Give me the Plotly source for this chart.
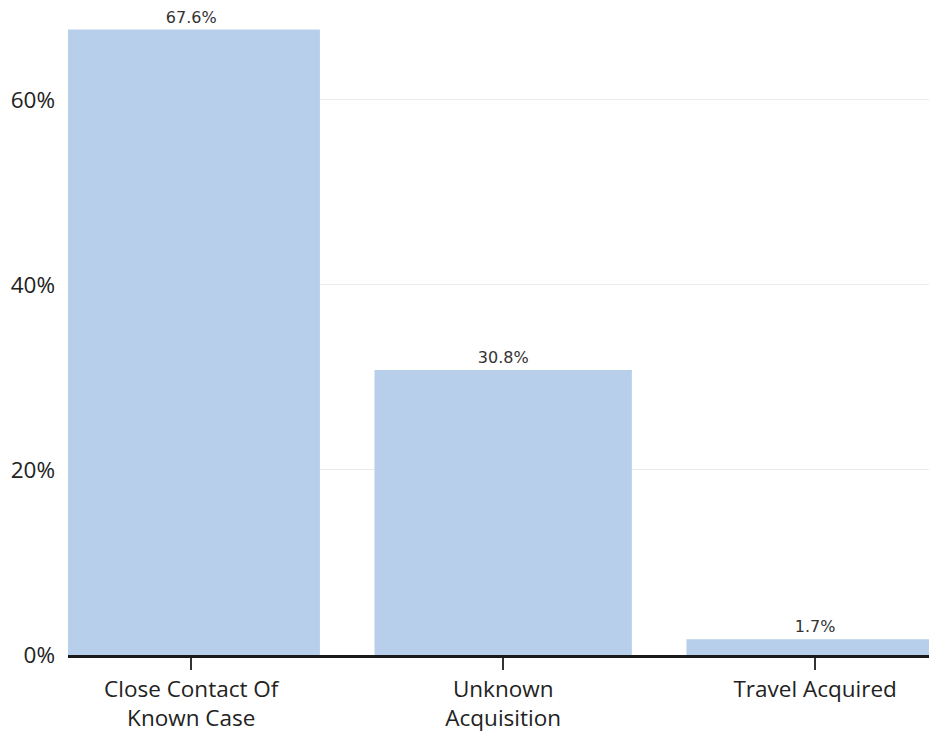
import plotly.graph_objects as go

categories = ["Close Contact Of<br>Known Case", "Unknown<br>Acquisition", "Travel Acquired"]
shares = [67.6, 30.8, 1.7]
y_ticks = [0, 20, 40, 60]
y_tick_labels = ["0%", "20%", "40%", "60%"]

fig = go.Figure(
    go.Bar(
        x=list(range(len(categories))),
        y=shares,
        width=0.825,
        marker=dict(color="#b7cfea", line=dict(width=0)),
        text=[f"{v:.1f}%" for v in shares],
        textposition="outside",
        cliponaxis=False,
        textfont=dict(family="DejaVu Sans", size=16, color="#333333"),
    )
)

fig.update_layout(
    width=929,
    height=734,
    margin=dict(l=68, r=0, t=0, b=79),
    paper_bgcolor="white",
    plot_bgcolor="white",
    showlegend=False,
    xaxis=dict(
        tickmode="array",
        tickvals=list(range(len(categories))),
        ticktext=categories,
        range=[-0.395, 2.365],
        showgrid=False,
        zeroline=False,
        showline=True,
        linecolor="#1a1a1a",
        linewidth=3,
        ticks="outside",
        ticklen=12,
        tickwidth=1.5,
        tickcolor="#333333",
        tickfont=dict(family="Open Sans", size=22.5, color="#222222"),
    ),
    yaxis=dict(
        range=[0, 70.8],
        tickmode="array",
        tickvals=y_ticks,
        ticktext=y_tick_labels,
        showgrid=True,
        gridcolor="#ebebeb",
        gridwidth=1,
        zeroline=False,
        showline=False,
        ticks="",
        ticklabelstandoff=12,
        tickfont=dict(family="Open Sans", size=22.5, color="#222222"),
    ),
)

fig.write_html("out.html")
